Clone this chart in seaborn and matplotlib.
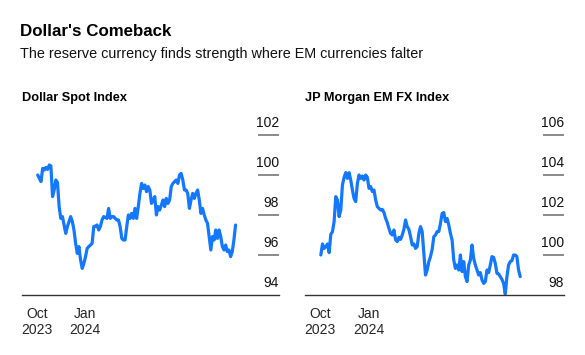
import numpy as np
import pandas as pd
import matplotlib
matplotlib.use("Agg")
import matplotlib.pyplot as plt
import seaborn as sns

# values, roughly every 3 days from early Oct 2023 to mid Oct 2024
dollar_spot = [100.00, 99.83, 99.67, 100.33, 100.25, 100.38, 100.28, 100.50, 100.45, 98.92,
               99.25, 99.75, 99.62, 98.42, 97.83, 97.92, 97.50, 97.08, 97.42, 97.67,
               97.92, 97.67, 97.25, 96.58, 96.08, 96.42, 95.75, 95.33, 95.58, 95.92,
               96.33, 96.42, 96.50, 96.58, 97.42, 97.45, 97.50, 97.25, 97.42, 97.75,
               97.92, 97.88, 97.83, 98.33, 97.83, 97.92, 97.92, 97.83, 97.75, 97.75,
               97.42, 96.83, 96.75, 96.75, 97.42, 98.00, 97.83, 98.08, 97.83, 98.33,
               97.83, 98.42, 99.08, 99.58, 99.33, 99.50, 99.17, 99.42, 99.25, 98.58,
               98.75, 98.92, 98.00, 98.42, 98.25, 98.50, 98.75, 98.42, 98.83, 98.58,
               98.75, 99.42, 99.58, 99.67, 99.75, 99.58, 100.00, 100.08, 99.75, 99.25,
               99.25, 99.08, 98.33, 98.75, 99.08, 98.83, 99.08, 99.25, 98.75, 98.08,
               98.33, 98.00, 97.75, 97.58, 96.92, 96.25, 96.92, 96.75, 97.25, 96.83,
               97.25, 96.92, 96.42, 96.25, 96.50, 96.17, 96.25, 95.92, 96.17, 96.75,
               97.50]

em_fx = [100.00, 100.55, 100.33, 100.42, 100.55, 100.12, 101.03, 101.17, 101.67, 102.92,
         102.75, 101.92, 102.25, 103.50, 103.88, 104.12, 103.83, 104.12, 103.75, 103.25,
         102.83, 102.67, 103.58, 104.00, 103.83, 103.95, 103.75, 104.00, 103.88, 103.33,
         103.42, 103.17, 103.25, 102.75, 102.42, 102.33, 102.25, 102.28, 102.12, 101.83,
         101.62, 101.33, 101.08, 101.00, 101.25, 100.75, 100.67, 100.88, 100.78, 101.00,
         101.28, 101.75, 101.42, 101.28, 100.92, 100.50, 100.55, 100.33, 100.42, 101.08,
         101.42, 101.17, 100.08, 99.00, 99.25, 99.67, 99.92, 100.28, 100.92, 101.00,
         101.17, 101.17, 101.58, 102.08, 102.12, 101.67, 101.83, 101.50, 101.08, 100.75,
         99.75, 99.33, 99.50, 99.25, 100.00, 99.17, 99.67, 98.92, 98.67, 99.50,
         99.75, 100.50, 99.83, 99.50, 99.25, 99.00, 99.12, 98.75, 98.58, 98.67,
         99.25, 99.12, 99.50, 99.92, 99.88, 99.58, 99.08, 99.05, 98.92, 98.78,
         98.58, 98.05, 98.92, 99.50, 99.67, 99.72, 100.00, 100.00, 99.92, 99.25,
         98.92]

dates = pd.date_range("2023-10-02", "2024-10-14", periods=len(dollar_spot))

panel_titles = ["Dollar Spot Index", "JP Morgan EM FX Index"]
ytick_sets = [[94, 96, 98, 100, 102], [98, 100, 102, 104, 106]]
xtick_dates = pd.to_datetime(["2023-10-01", "2024-01-01"])
xtick_labels = ["Oct\n2023", "Jan\n2024"]

sns.set_style("white")
plt.rcParams["font.family"] = ["Liberation Sans", "DejaVu Sans"]

fig = plt.figure(figsize=(5.85, 3.55), dpi=100)
fig.text(20 / 585, 1 - 31 / 355, "Dollar's Comeback", fontsize=12.2, fontweight="bold",
         va="center", ha="left", color="#000000")
fig.text(20 / 585, 1 - 54 / 355, "The reserve currency finds strength where EM currencies falter",
         fontsize=10.4, va="center", ha="left", color="#111111")

line_color = "#1478ff"
axes_boxes = [[22 / 585, 60 / 355, 257 / 585, 170 / 355],
              [305 / 585, 60 / 355, 259 / 585, 170 / 355]]
series = [dollar_spot, em_fx]

for box, vals, title, yticks in zip(axes_boxes, series, panel_titles, ytick_sets):
    ax = fig.add_axes(box)
    df = pd.DataFrame({"date": dates, "value": vals})
    sns.lineplot(data=df, x="date", y="value", ax=ax, color=line_color, linewidth=2.3)
    ax.set_xlim(pd.Timestamp("2023-09-02"), pd.Timestamp("2025-01-05"))
    ax.set_ylim(yticks[0], yticks[0] + 8.5)
    ax.set_xlabel("")
    ax.set_ylabel("")
    for s in ["top", "right", "left"]:
        ax.spines[s].set_visible(False)
    ax.spines["bottom"].set_color("#333333")
    ax.spines["bottom"].set_linewidth(1.0)
    ax.set_yticks([])
    ax.set_xticks(xtick_dates)
    ax.set_xticklabels(xtick_labels, fontsize=10, linespacing=1.15)
    ax.tick_params(axis="x", length=4, width=1, color="#555555", pad=5)
    trans = ax.get_yaxis_transform()
    for t in yticks:
        if t != yticks[0]:
            ax.plot([0.918, 1.0], [t, t], transform=trans, color="#777777", lw=1.2,
                    clip_on=False, solid_capstyle="butt")
        ax.text(1.0, t + 0.25, str(t), transform=trans, ha="right", va="bottom",
                fontsize=10, color="#111111")
    fig.text(box[0], 1 - 98 / 355, title, fontsize=9.2, fontweight="bold",
             ha="left", va="center", color="#000000")

fig.savefig("out.png", dpi=100)
